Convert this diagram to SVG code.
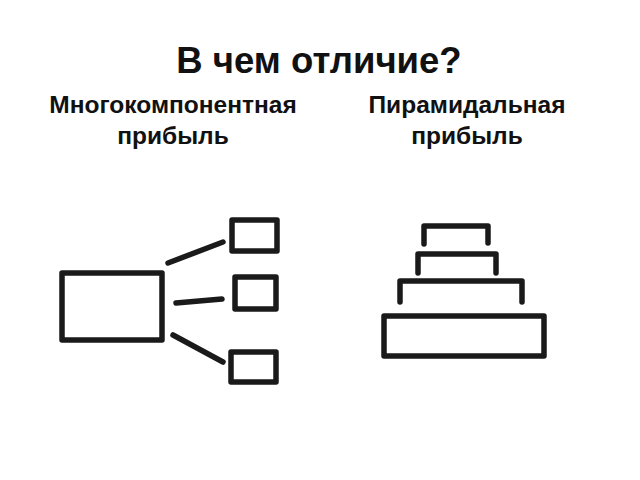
<svg xmlns="http://www.w3.org/2000/svg" width="640" height="480" viewBox="0 0 640 480">
<style>
.t{font-family:"Liberation Sans",Arial,sans-serif;font-weight:bold;fill:#111;text-anchor:middle}
.b{fill:none;stroke:#1a1a1a;stroke-width:5.5;stroke-linecap:round;stroke-linejoin:round}
.c{fill:none;stroke:#1a1a1a;stroke-width:5.5;stroke-linecap:round}
</style>
<rect width="640" height="480" fill="#fff"/>
<text class="t" x="319" y="73" font-size="36.5">В чем отличие?</text>
<text class="t" x="173" y="113" font-size="24.5">Многокомпонентная</text>
<text class="t" x="173" y="144" font-size="24.5">прибыль</text>
<text class="t" x="467" y="113" font-size="24.5">Пирамидальная</text>
<text class="t" x="467" y="144" font-size="24.5">прибыль</text>
<g id="main-box"><rect class="b" x="62" y="273" width="100" height="67"/></g>
<g id="box-top"><rect class="b" x="232" y="220" width="45" height="31"/></g>
<g id="box-mid"><rect class="b" x="235" y="277" width="41" height="32"/></g>
<g id="box-bot"><rect class="b" x="231" y="352" width="45" height="30"/></g>
<g id="connectors">
<line class="c" x1="168" y1="263" x2="223" y2="242"/>
<line class="c" x1="176" y1="303" x2="222" y2="299"/>
<line class="c" x1="173" y1="335" x2="223" y2="362"/>
</g>
<g id="tier1"><path class="b" d="M424,244 V226 H488 V243"/></g>
<g id="tier2"><path class="b" d="M418,273 V254 H496 V273"/></g>
<g id="tier3"><path class="b" d="M400,302 V281 H522 V302"/></g>
<g id="tier4"><rect class="b" x="384" y="316" width="160" height="40"/></g>
</svg>
